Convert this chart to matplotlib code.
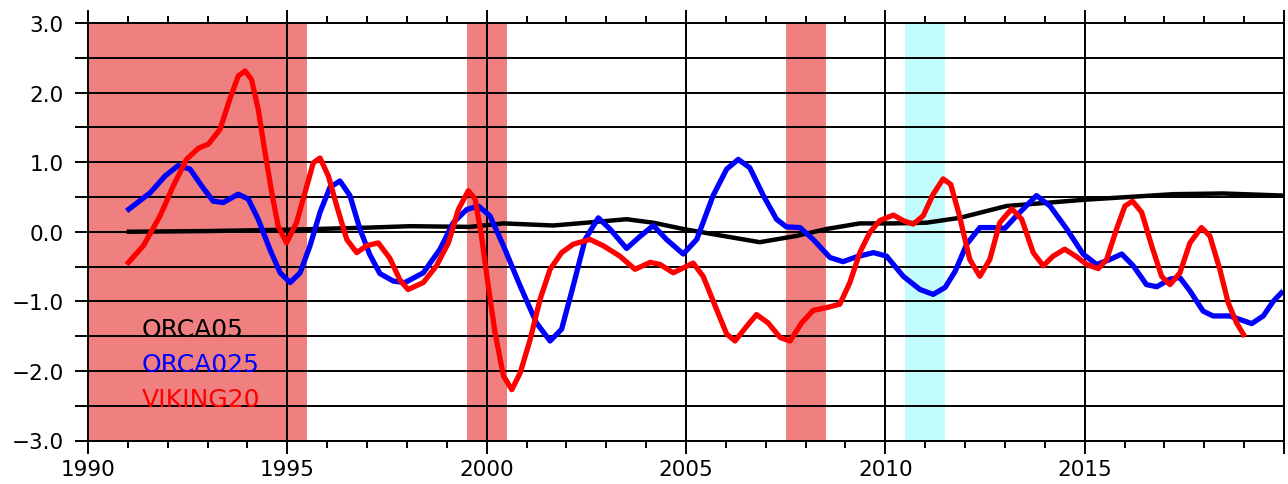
import matplotlib
matplotlib.use("Agg")
import matplotlib.pyplot as plt
from matplotlib.ticker import MultipleLocator, FixedLocator

plt.rcParams['font.family'] = ['DejaVu Sans']

# ---- data ----
red_years = [1990.97, 1991.39, 1991.81, 1992.14, 1992.47, 1992.77, 1993.02, 1993.31, 1993.56, 1993.77,
             1993.94, 1994.10, 1994.27, 1994.44, 1994.61, 1994.77, 1994.98, 1995.23, 1995.49, 1995.65,
             1995.82, 1996.03, 1996.24, 1996.49, 1996.74, 1996.99, 1997.28, 1997.57, 1997.83, 1998.03,
             1998.41, 1998.74, 1999.04, 1999.29, 1999.54, 1999.71, 1999.87, 2000.04, 2000.21, 2000.42,
             2000.63, 2000.84, 2001.09, 2001.34, 2001.59, 2001.88, 2002.17, 2002.59, 2002.92, 2003.34,
             2003.72, 2004.10, 2004.35, 2004.68, 2005.18, 2005.43, 2005.77, 2006.02, 2006.23, 2006.52,
             2006.77, 2007.06, 2007.36, 2007.61, 2007.90, 2008.19, 2008.53, 2008.86, 2009.11, 2009.36,
             2009.61, 2009.86, 2010.20, 2010.45, 2010.70, 2010.95, 2011.20, 2011.45, 2011.64, 2011.85,
             2012.12, 2012.37, 2012.62, 2012.87, 2013.17, 2013.42, 2013.71, 2013.96, 2014.21, 2014.50,
             2014.80, 2015.05, 2015.34, 2015.55, 2015.80, 2016.01, 2016.20, 2016.43, 2016.68, 2016.93,
             2017.14, 2017.39, 2017.64, 2017.93, 2018.14, 2018.39, 2018.60, 2018.81, 2019.02]
red_vals = [-0.47, -0.20, 0.23, 0.66, 1.04, 1.20, 1.26, 1.47, 1.91, 2.24,
            2.31, 2.19, 1.76, 1.14, 0.56, 0.08, -0.16, 0.13, 0.66, 0.99,
            1.06, 0.80, 0.37, -0.11, -0.30, -0.20, -0.16, -0.38, -0.70, -0.83,
            -0.73, -0.49, -0.16, 0.32, 0.59, 0.47, -0.06, -0.78, -1.45, -2.07,
            -2.27, -2.03, -1.55, -0.97, -0.54, -0.30, -0.18, -0.11, -0.20, -0.35,
            -0.54, -0.44, -0.47, -0.59, -0.45, -0.64, -1.12, -1.47, -1.57, -1.36,
            -1.19, -1.31, -1.52, -1.57, -1.31, -1.13, -1.09, -1.04, -0.73, -0.30,
            -0.01, 0.16, 0.24, 0.16, 0.11, 0.23, 0.54, 0.76, 0.68, 0.25,
            -0.40, -0.64, -0.40, 0.13, 0.33, 0.18, -0.30, -0.49, -0.35, -0.25,
            -0.36, -0.47, -0.53, -0.40, 0.04, 0.37, 0.44, 0.28, -0.20, -0.64,
            -0.76, -0.59, -0.16, 0.06, -0.06, -0.54, -1.02, -1.31, -1.51]

blue_years = [1990.97, 1991.56, 1991.93, 1992.26, 1992.56, 1992.85, 1993.14, 1993.39, 1993.77, 1994.02,
              1994.27, 1994.56, 1994.82, 1995.07, 1995.32, 1995.57, 1995.82, 1996.07, 1996.32, 1996.57,
              1996.82, 1997.07, 1997.32, 1997.66, 1997.95, 1998.41, 1998.83, 1999.16, 1999.50, 1999.79,
              2000.08, 2000.42, 2000.84, 2001.25, 2001.59, 2001.88, 2002.17, 2002.47, 2002.80, 2003.09,
              2003.51, 2003.84, 2004.18, 2004.51, 2004.93, 2005.27, 2005.68, 2006.02, 2006.31, 2006.60,
              2006.94, 2007.27, 2007.52, 2007.86, 2008.19, 2008.61, 2008.94, 2009.28, 2009.70, 2010.03,
              2010.45, 2010.87, 2011.20, 2011.50, 2011.75, 2012.04, 2012.37, 2012.71, 2013.00, 2013.29,
              2013.79, 2014.13, 2014.55, 2014.96, 2015.30, 2015.63, 2015.93, 2016.22, 2016.55, 2016.81,
              2017.14, 2017.39, 2017.64, 2017.97, 2018.22, 2018.64, 2019.19, 2019.48, 2019.73, 2019.98]
blue_vals = [0.30, 0.56, 0.80, 0.95, 0.90, 0.66, 0.44, 0.42, 0.54, 0.47,
             0.18, -0.25, -0.59, -0.73, -0.59, -0.20, 0.28, 0.64, 0.73, 0.52,
             0.04, -0.33, -0.60, -0.71, -0.73, -0.59, -0.25, 0.13, 0.32, 0.37,
             0.23, -0.20, -0.78, -1.31, -1.57, -1.40, -0.78, -0.11, 0.20, 0.04,
             -0.24, -0.07, 0.09, -0.11, -0.32, -0.11, 0.52, 0.90, 1.04, 0.92,
             0.52, 0.18, 0.07, 0.06, -0.11, -0.37, -0.43, -0.36, -0.30, -0.35,
             -0.64, -0.83, -0.90, -0.80, -0.57, -0.18, 0.06, 0.06, 0.05, 0.23,
             0.52, 0.37, 0.04, -0.32, -0.47, -0.40, -0.32, -0.49, -0.76, -0.79,
             -0.68, -0.66, -0.85, -1.14, -1.21, -1.21, -1.32, -1.21, -1.00, -0.85]

black_years = [1990.97, 1993.0, 1995.07, 1997.07, 1998.08, 1999.58, 2000.42, 2001.67, 2002.5, 2003.51,
               2004.18, 2004.93, 2005.93, 2006.85, 2007.77, 2008.53, 2009.36, 2010.2, 2011.03, 2011.87,
               2013.04, 2015.0, 2017.22, 2018.47, 2019.98]
black_vals = [0.00, 0.01, 0.03, 0.06, 0.08, 0.07, 0.12, 0.09, 0.13, 0.18,
              0.13, 0.04, -0.06, -0.15, -0.06, 0.04, 0.12, 0.12, 0.13, 0.20,
              0.37, 0.46, 0.54, 0.55, 0.52]

warm_periods = [(1990.0, 1995.5), (1999.5, 2000.5), (2007.5, 2008.5)]
cold_periods = [(2010.5, 2011.5)]

series_names = ['ORCA05', 'ORCA025', 'VIKING20']
series_colors = ['black', '#0000FF', '#FF0000']

x_ticklabels = ['1990', '1995', '2000', '2005', '2010', '2015']
y_ticklabels = ['-3.0', '-2.0', '-1.0', '0.0', '1.0', '2.0', '3.0']

# ---- figure ----
fig = plt.figure(figsize=(12.88, 4.85), dpi=100)
ax = fig.add_axes([88 / 1288, 1 - 441.5 / 485, (1284 - 88) / 1288, (441.5 - 24) / 485])
ax.set_xlim(1990, 2020)
ax.set_ylim(-3, 3)

for a, b in warm_periods:
    ax.axvspan(a, b, color='#F08080', lw=0, zorder=0)
for a, b in cold_periods:
    ax.axvspan(a, b, color='#C2FCFC', lw=0, zorder=0)

# grid
for yv in [v * 0.5 for v in range(-5, 6)]:
    ax.axhline(yv, color='black', lw=1.4, zorder=1)
for xv in [1995, 2000, 2005, 2010, 2015]:
    ax.axvline(xv, color='black', lw=1.4, zorder=1)

ax.plot(black_years, black_vals, color=series_colors[0], lw=3.2, zorder=3,
        solid_capstyle='butt', solid_joinstyle='round')
ax.plot(blue_years, blue_vals, color=series_colors[1], lw=3.8, zorder=4,
        solid_capstyle='butt', solid_joinstyle='round')
ax.plot(red_years, red_vals, color=series_colors[2], lw=3.8, zorder=5,
        solid_capstyle='butt', solid_joinstyle='round')

for name, col, yb in zip(series_names, series_colors, [-1.5, -2.0, -2.5]):
    ax.text(1991.35, yb, name, color=col, fontsize=18, va='baseline', ha='left', zorder=6)

# ticks
ax.xaxis.set_major_locator(FixedLocator([1990, 1995, 2000, 2005, 2010, 2015, 2020]))
ax.set_xticklabels(x_ticklabels + [''])
ax.xaxis.set_minor_locator(MultipleLocator(1))
ax.tick_params(axis='x', which='major', direction='out', length=9.5, width=1.4,
               top=True, bottom=True, labelsize=15.5, pad=4)
ax.tick_params(axis='x', which='minor', direction='out', length=4.8, width=1.4,
               top=True, bottom=True)

ax.yaxis.set_major_locator(FixedLocator([-3, -2, -1, 0, 1, 2, 3]))
ax.set_yticklabels([t.replace('-', '\u2212') for t in y_ticklabels])
ax.yaxis.set_minor_locator(FixedLocator([-2.5, -1.5, -0.5, 0.5, 1.5, 2.5]))
ax.tick_params(axis='y', which='major', direction='out', length=9.5, width=1.4,
               left=True, right=False, labelsize=15.5, pad=8)
ax.tick_params(axis='y', which='minor', direction='out', length=9.5, width=1.4,
               left=True, right=False)

for s in ax.spines.values():
    s.set_linewidth(1.4)
    s.set_zorder(7)

fig.savefig('out.png', dpi=100)
